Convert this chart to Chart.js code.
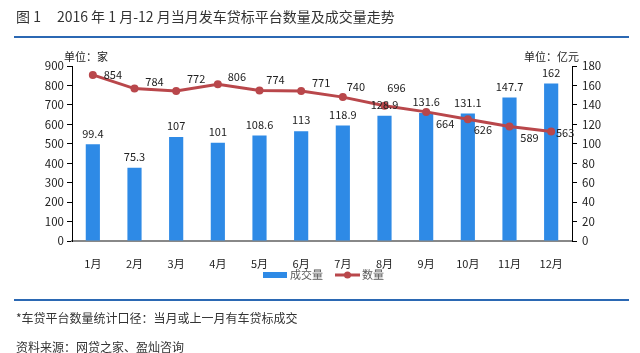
<!DOCTYPE html>
<html><head><meta charset="utf-8">
<script src="https://cdn.jsdelivr.net/npm/chart.js@4.4.0/dist/chart.umd.min.js"></script>
<style>
html,body{margin:0;padding:0;background:#fff;width:640px;height:353px;overflow:hidden;font-family:"Noto Sans CJK SC","Noto Sans",sans-serif;}
#wrap{position:relative;width:640px;height:353px;}
canvas{position:absolute;left:0;top:0;}
.t{position:absolute;white-space:nowrap;color:#333;}
.rule{position:absolute;left:14px;width:615px;height:2px;background:#2b68b3;}
</style></head>
<body><div id="wrap">
<canvas id="c" width="640" height="353"></canvas>
<div class="t" style="left:16px;top:6px;font-size:14px;">图 1<span style="display:inline-block;width:16px"></span>2016 年 1 月-12 月当月发车贷标平台数量及成交量走势</div>
<div class="rule" style="top:36px;"></div>
<div class="rule" style="top:299px;"></div>
<div class="t" style="left:16px;top:309px;font-size:12px;">*车贷平台数量统计口径：当月或上一月有车贷标成交</div>
<div class="t" style="left:16px;top:338px;font-size:12px;">资料来源：网贷之家、盈灿咨询</div>
</div>
<script>
const categories = ['1月','2月','3月','4月','5月','6月','7月','8月','9月','10月','11月','12月'];
const volumeValues = [99.4, 75.3, 107, 101, 108.6, 113, 118.9, 128.9, 131.6, 131.1, 147.7, 162];
const countValues = [854, 784, 772, 806, 774, 771, 740, 696, 664, 626, 589, 563];
const leftTicks = [0,100,200,300,400,500,600,700,800,900];
const rightTicks = [0,20,40,60,80,100,120,140,160,180];
const volumeName = '成交量';
const countName = '数量';

// label offsets for the line labels (style)
const lineLabelOffsets = [[20,0],[20,-7],[20,-12],[19,-7],[16,-11],[20,-8],[13,-10],[12,-18],[19,12],[15,11],[20,11],[14,1]];

const BAR_COLOR = '#2e8ae6';
const LINE_COLOR = '#b9474b';
const FONT = '"Noto Sans CJK SC","Noto Sans",sans-serif';

const labelPlugin = {
  id: 'labels',
  afterDatasetsDraw(chart) {
    const ctx = chart.ctx;
    ctx.save();
    ctx.font = '11px ' + FONT;
    ctx.fillStyle = '#222';
    ctx.textAlign = 'center';
    ctx.textBaseline = 'middle';
    const barMeta = chart.getDatasetMeta(0);
    barMeta.data.forEach((el, i) => {
      ctx.fillText(String(volumeValues[i]), el.x, el.y - 11);
    });
    const lineMeta = chart.getDatasetMeta(1);
    lineMeta.data.forEach((el, i) => {
      const o = lineLabelOffsets[i];
      ctx.fillText(String(countValues[i]), el.x + o[0], el.y + o[1]);
    });
    // unit labels
    ctx.font = '11px ' + FONT;
    ctx.fillStyle = '#222';
    const ca = chart.chartArea;
    ctx.textAlign = 'left';
    ctx.fillText('单位：家', 64, ca.top - 9);
    ctx.textAlign = 'right';
    ctx.fillText('单位：亿元', 579, ca.top - 9);
    // legend
    ctx.fillStyle = BAR_COLOR;
    ctx.fillRect(263, 272, 24, 6);
    ctx.font = '11px ' + FONT;
    ctx.fillStyle = '#595959';
    ctx.textAlign = 'left';
    ctx.fillText(volumeName, 290, 275);
    ctx.strokeStyle = LINE_COLOR;
    ctx.lineWidth = 3;
    ctx.beginPath(); ctx.moveTo(335, 275); ctx.lineTo(360, 275); ctx.stroke();
    ctx.fillStyle = LINE_COLOR;
    ctx.beginPath(); ctx.arc(347.5, 275, 3.5, 0, Math.PI*2); ctx.fill();
    ctx.fillStyle = '#595959';
    ctx.fillText(countName, 362, 275);
    ctx.restore();
  }
};

new Chart(document.getElementById('c'), {
  data: {
    labels: categories,
    datasets: [
      { type: 'bar', label: volumeName, data: volumeValues, yAxisID: 'y1', backgroundColor: BAR_COLOR,
        barPercentage: 0.34, categoryPercentage: 1, order: 1 },
      { type: 'line', label: countName, data: countValues, yAxisID: 'y', borderColor: LINE_COLOR, backgroundColor: LINE_COLOR,
        borderWidth: 3, pointRadius: 4, pointBackgroundColor: LINE_COLOR, pointBorderWidth: 0, tension: 0, order: 0 }
    ]
  },
  options: {
    responsive: false,
    animation: false,
    devicePixelRatio: 1,
    layout: { padding: { top: 66, left: 0, right: 0, bottom: 0 } },
    plugins: { legend: { display: false }, tooltip: { enabled: false }, title: { display: false } },
    scales: {
      x: {
        grid: { display: false },
        border: { display: true, color: '#888', width: 2 },
        ticks: { color: '#222', font: { size: 11, family: FONT }, padding: 8, maxRotation: 0 },
        afterFit(s) { s.height = 112; }
      },
      y: {
        position: 'left', min: 0, max: 900,
        afterBuildTicks(s) { s.ticks = leftTicks.map(v => ({ value: v })); },
        grid: { drawOnChartArea: false, drawTicks: true, tickLength: 5, color: '#000' },
        border: { display: true, color: '#000', width: 1 },
        ticks: { color: '#222', font: { size: 11.5, family: FONT }, padding: 3 },
        afterFit(s) { s.width = 72; }
      },
      y1: {
        position: 'right', min: 0, max: 180,
        afterBuildTicks(s) { s.ticks = rightTicks.map(v => ({ value: v })); },
        grid: { drawOnChartArea: false, drawTicks: true, tickLength: 5, color: '#000' },
        border: { display: true, color: '#000', width: 1 },
        ticks: { color: '#222', font: { size: 11.5, family: FONT }, padding: 5 },
        afterFit(s) { s.width = 68; }
      }
    }
  },
  plugins: [labelPlugin]
});
</script>
</body></html>
